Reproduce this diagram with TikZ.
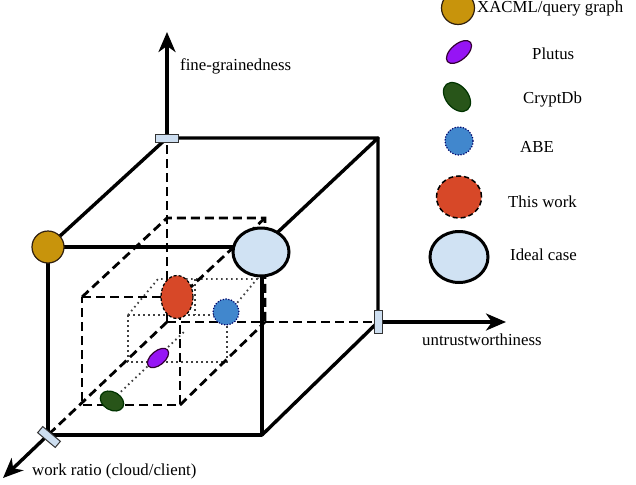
\documentclass[tikz,border=0pt]{standalone}
\usepackage{fontspec}
\setmainfont{Liberation Serif}
\usetikzlibrary{arrows.meta,shapes.geometric}
\definecolor{cgold}{RGB}{200,148,12}
\definecolor{cpurple}{RGB}{150,20,245}
\definecolor{cgreen}{RGB}{40,85,25}
\definecolor{cblue}{RGB}{65,135,205}
\definecolor{corange}{RGB}{215,72,40}
\definecolor{cideal}{RGB}{208,226,243}
\definecolor{crect}{RGB}{205,222,240}
\begin{document}
\begin{tikzpicture}[x=1pt,y=-1pt,
  solidline/.style={line width=3.4pt,line cap=round,line join=round},
  dashline/.style={line width=2.8pt,dash pattern=on 9pt off 5pt},
  dotline/.style={line width=1.8pt,dash pattern=on 1.6pt off 3.4pt,black!75},
  axisline/.style={line width=3.4pt,-{Stealth[length=20pt,width=17pt,inset=6pt]}},
  axmark/.style={draw=black!80,line width=1pt,fill=crect,minimum width=23pt,minimum height=8pt,inner sep=0pt},
  blob/.style={shape=ellipse,inner sep=0pt},
  lbl/.style={font=\fontsize{16.8}{19}\selectfont,inner sep=0pt,anchor=base west}]
\useasboundingbox (0,0) rectangle (636,484);

% outer cube corners
\coordinate (O) at (167,322);
\coordinate (FTL) at (48,247);
\coordinate (FTR) at (262,247);
\coordinate (FBR) at (262,435);
\coordinate (FBL) at (48,435);
\coordinate (BTL) at (167,138);
\coordinate (BTR) at (378,138);
\coordinate (BBR) at (378,322);
% axis ends
\coordinate (Zend) at (167,32);
\coordinate (Xend) at (506,322);
\coordinate (Yend) at (3,478);
% inner dashed cube
\coordinate (IFTL) at (82,297);
\coordinate (IFTR) at (180,297);
\coordinate (IFBR) at (180,405);
\coordinate (IFBL) at (82,405);
\coordinate (IBTL) at (167,218);
\coordinate (IBTR) at (265,218);
\coordinate (IBBR) at (265,322);
% dotted box
\coordinate (DFTL) at (128,315);
\coordinate (DFTR) at (227,315);
\coordinate (DFBR) at (227,362);
\coordinate (DFBL) at (128,362);
\coordinate (DBTL) at (158,279);
\coordinate (DBTR) at (257,279);
\coordinate (DBM) at (195,279);
\coordinate (DFM) at (195,315);
\coordinate (DG1) at (110,402);
\coordinate (DG2) at (186,330);

% dotted box
\draw[dotline] (DFTL) -- (DFTR) -- (DFBR) -- (DFBL) -- cycle;
\draw[dotline] (DFTL) -- (DBTL) -- (DBTR) -- (DFTR);
\draw[dotline] (DBM) -- (DFM);
\draw[dotline] (DG1) -- (DG2);

% inner dashed cube
\draw[dashline] (IFTL) -- (IFTR) -- (IFBR) -- (IFBL) -- cycle;
\draw[dashline] (IFTL) -- (IBTL) -- (IBTR) -- (IBBR);
\draw[dashline] (IBTR) -- (IFTR);
\draw[dashline] (IFBR) -- (IBBR);

% hidden axes parts
\draw[dashline] (O) -- (BTL);
\draw[dashline] (O) -- (BBR);
\draw[dashline] (O) -- (FBL);

% outer cube
\draw[solidline] (FTL) -- (FTR) -- (FBR) -- (FBL) -- cycle;
\draw[solidline] (FTL) -- (BTL) -- (BTR) -- (FTR);
\draw[solidline] (BTR) -- (BBR) -- (FBR);

% visible axes
\draw[axisline] (BTL) -- (Zend);
\draw[axisline] (BBR) -- (Xend);
\draw[axisline] (FBL) -- (Yend);

% axis marks
\node[axmark] (mz) at (BTL) {};
\node[axmark,rotate=90] (mx) at (BBR) {};
\node[axmark,rotate=-40] (my) at (49,437) {};

% axis labels
\node[lbl] (tz) at (180,71) {fine-grainedness};
\node[lbl] (tx) at (422,345) {untrustworthiness};
\node[lbl] (ty) at (32,475) {work ratio (cloud/client)};

% points in the cube
\node[blob,draw=black!75!brown,line width=1.2pt,fill=cgold,minimum width=32pt,minimum height=32pt] (pxacml) at (48,247) {};
\node[blob,draw=black,line width=3pt,fill=cideal,minimum width=56pt,minimum height=48pt] (pideal) at (261,252) {};
\node[blob,draw=black,line width=1.2pt,dash pattern=on 3pt off 2pt,fill=corange,minimum width=32pt,minimum height=43pt] (pthis) at (177,297) {};
\node[blob,draw=black!60!blue,line width=1.2pt,dash pattern=on 1.2pt off 1.6pt,fill=cblue,minimum width=26pt,minimum height=26pt] (pabe) at (226,312) {};
\node[blob,draw=black!60!violet,line width=1.2pt,fill=cpurple,minimum width=25pt,minimum height=14pt,rotate=40] (pplutus) at (158,358) {};
\node[blob,draw=black!80!green,line width=1.2pt,fill=cgreen,minimum width=25pt,minimum height=18pt,rotate=-30] (pcrypt) at (112,401) {};

% legend
\node[blob,draw=black!75!brown,line width=1.2pt,fill=cgold,minimum width=33pt,minimum height=33pt] (lxacml) at (458,8) {};
\node[blob,draw=black!60!violet,line width=1.2pt,fill=cpurple,minimum width=30pt,minimum height=16pt,rotate=40] (lplutus) at (459,52) {};
\node[blob,draw=black!80!green,line width=1.2pt,fill=cgreen,minimum width=33pt,minimum height=22pt,rotate=-50] (lcrypt) at (457,97) {};
\node[blob,draw=black!60!blue,line width=1.2pt,dash pattern=on 1.2pt off 1.6pt,fill=cblue,minimum width=28pt,minimum height=28pt] (labe) at (459,141) {};
\node[blob,draw=black,line width=1.5pt,dash pattern=on 5pt off 3pt,fill=corange,minimum width=45pt,minimum height=42pt] (lthis) at (459,197) {};
\node[blob,draw=black,line width=3pt,fill=cideal,minimum width=58pt,minimum height=51pt] (lideal) at (459,257) {};

\node[lbl] (txacml) at (477,13) {XACML/query graph};
\node[lbl] (tplutus) at (532,60) {Plutus};
\node[lbl] (tcrypt) at (523,103) {CryptDb};
\node[lbl] (tabe) at (520,152) {ABE};
\node[lbl] (tthis) at (508,207) {This work};
\node[lbl] (tideal) at (510,260) {Ideal case};
\end{tikzpicture}
\end{document}
